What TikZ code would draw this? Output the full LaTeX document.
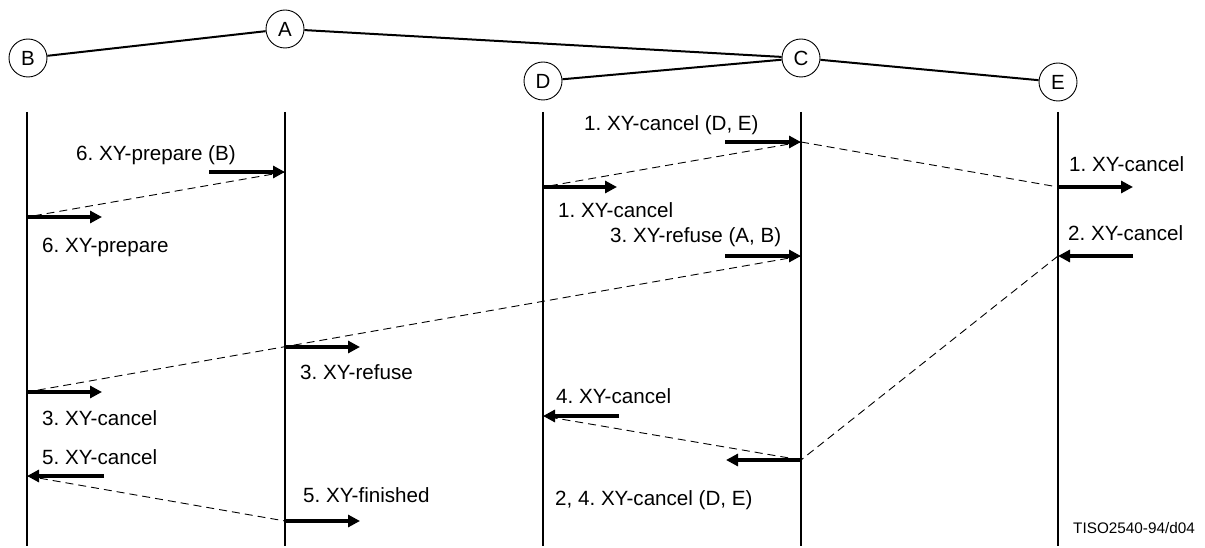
\documentclass[tikz,border=0pt]{standalone}
\usepackage{fontspec}
\setmainfont{Liberation Sans}
\usetikzlibrary{arrows.meta}
\frenchspacing
\begin{document}
\begin{tikzpicture}[x=1pt,y=-1pt,
  ent/.style={draw,circle,line width=0.9pt,minimum size=38pt,inner sep=0pt,font=\fontsize{20.5}{24}\selectfont},
  link/.style={line width=2pt},
  life/.style={line width=2.8pt},
  msg/.style={line width=3.3pt,-{Triangle[length=12pt,width=12pt]}},
  flow/.style={line width=0.9pt,dash pattern=on 8pt off 5pt},
  lbl/.style={anchor=base west,inner sep=0pt,font=\fontsize{20.6}{24}\selectfont},
  ref/.style={anchor=base west,inner sep=0pt,font=\fontsize{15.3}{18}\selectfont}]
\useasboundingbox (0,0) rectangle (1205,548);
% entities
\node[ent] (B) at (28,58) {B};
\node[ent] (A) at (285,29) {A};
\node[ent] (D) at (543,81) {D};
\node[ent] (C) at (801,58) {C};
\node[ent] (E) at (1058,82) {E};
\draw[link] (B) -- (A);
\draw[link] (A) -- (C);
\draw[link] (D) -- (C);
\draw[link] (C) -- (E);
% lifelines
\foreach \n/\x in {B/27,A/285,D/543,C/801,E/1058}{
  \coordinate (\n top) at (\x,112);
  \coordinate (\n bot) at (\x,546);
  \draw[life] (\n top) -- (\n bot);
}
% message points
\coordinate (a1) at (285,172);  \coordinate (a1s) at (209,172);
\coordinate (b1) at (27,217);   \coordinate (b1e) at (102,217);
\coordinate (c1) at (801,142);  \coordinate (c1s) at (725,142);
\coordinate (d1) at (543,187);  \coordinate (d1e) at (617,187);
\coordinate (e1) at (1058,187); \coordinate (e1e) at (1133,187);
\coordinate (e2) at (1058,256); \coordinate (e2s) at (1133,256);
\coordinate (c3) at (801,256);  \coordinate (c3s) at (725,256);
\coordinate (a3) at (285,347);  \coordinate (a3e) at (360,347);
\coordinate (b3) at (27,392);   \coordinate (b3e) at (102,392);
\coordinate (b5) at (27,476);   \coordinate (b5s) at (104,476);
\coordinate (a5) at (285,521);  \coordinate (a5e) at (360,521);
\coordinate (d4) at (543,416);  \coordinate (d4s) at (619,416);
\coordinate (c4) at (801,460);  \coordinate (c4e) at (726,460);
% dashed flows
\draw[flow] (a1) -- (b1);
\draw[flow] (c1) -- (d1);
\draw[flow] (c1) -- (e1);
\draw[flow] (c3) -- (b3);
\draw[flow] (e2) -- (c4);
\draw[flow] (c4) -- (d4);
\draw[flow] (b5) -- (a5);
% arrows
\draw[msg] (a1s) -- (a1);
\draw[msg] (b1) -- (b1e);
\draw[msg] (c1s) -- (c1);
\draw[msg] (d1) -- (d1e);
\draw[msg] (e1) -- (e1e);
\draw[msg] (e2s) -- (e2);
\draw[msg] (c3s) -- (c3);
\draw[msg] (a3) -- (a3e);
\draw[msg] (b3) -- (b3e);
\draw[msg] (b5s) -- (b5);
\draw[msg] (a5) -- (a5e);
\draw[msg] (d4s) -- (d4);
\draw[msg] (c4) -- (c4e);
% labels
\node[lbl] (l1) at (76,161) {6. XY-prepare (B)};
\node[lbl] (l2) at (42,252) {6. XY-prepare};
\node[lbl] (l3) at (584,131) {1. XY-cancel (D, E)};
\node[lbl] (l4) at (558,218) {1. XY-cancel};
\node[lbl] (l5) at (610,243) {3. XY-refuse (A, B)};
\node[lbl] (l6) at (1069,172) {1. XY-cancel};
\node[lbl] (l7) at (1068,241) {2. XY-cancel};
\node[lbl] (l8) at (300,379) {3. XY-refuse};
\node[lbl] (l9) at (42,425) {3. XY-cancel};
\node[lbl] (l10) at (42,464) {5. XY-cancel};
\node[lbl] (l11) at (303,502) {5. XY-finished};
\node[lbl] (l12) at (556,403) {4. XY-cancel};
\node[lbl] (l13) at (555,505) {2, 4. XY-cancel (D, E)};
\node[ref] (l14) at (1073,533) {TISO2540-94/d04};
\end{tikzpicture}
\end{document}
